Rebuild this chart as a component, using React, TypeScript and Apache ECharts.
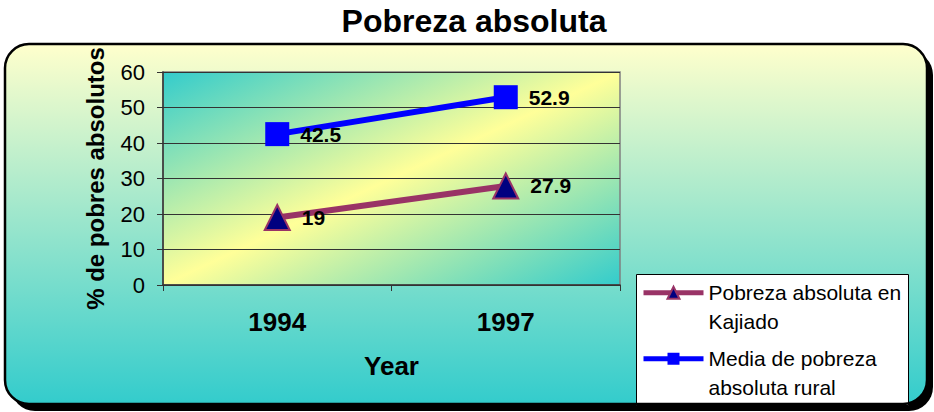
import React, { useEffect, useRef } from 'react';
import * as echarts from 'echarts';

const titleText = 'Pobreza absoluta';
const categories = ['1994', '1997'];
const kajiado = [19, 27.9];
const rural = [42.5, 52.9];
const seriesNames = ['Pobreza absoluta en Kajiado', 'Media de pobreza absoluta rural'];
const legendLabels = ['Pobreza absoluta en\nKajiado', 'Media de pobreza\nabsoluta rural'];
const yMin = 0;
const yMax = 60;
const yInterval = 10;
const yAxisName = '% de pobres absolutos';
const xAxisName = 'Year';

const FONT = '"Liberation Sans", Arial, sans-serif';

export default function App() {
  const ref = useRef<HTMLDivElement>(null);

  useEffect(() => {
    if (!ref.current) return;
    const chart = echarts.init(ref.current, undefined, { renderer: 'svg' });
    const LH = 28.5;
    const legendText = {
      fontFamily: FONT,
      fontSize: 21,
      color: '#000',
      lineHeight: LH,
    };
    // leading blank line keeps the first text line level with the icon
    const legendFormatter = (name: string) => ' \n' + legendLabels[seriesNames.indexOf(name)];
    const legendCommon = {
      left: 641,
      padding: 0,
      itemWidth: 60,
      itemHeight: 15,
      formatter: legendFormatter,
      textStyle: legendText,
      lineStyle: { width: 5 },
    };
    chart.setOption({
      animation: false,
      textStyle: { fontFamily: FONT },
      title: {
        text: titleText,
        left: 469,
        textAlign: 'center',
        top: 0,
        textStyle: { fontFamily: FONT, fontSize: 32, fontWeight: 'bold', color: '#000' },
      },
      graphic: [
        {
          type: 'rect',
          z: -12,
          shape: { x: 11, y: 51, width: 922, height: 360, r: 24 },
          style: { fill: '#000' },
        },
        {
          type: 'rect',
          z: -10,
          shape: { x: 5, y: 44, width: 922, height: 360, r: 24 },
          style: {
            fill: new echarts.graphic.LinearGradient(0, 0, 0, 1, [
              { offset: 0, color: '#FFFFCC' },
              { offset: 1, color: '#33CCCC' },
            ]),
          },
        },
        {
          type: 'rect',
          z: 1,
          shape: { x: 636.5, y: 274.5, width: 272, height: 131 },
          style: { fill: '#fff', stroke: '#000', lineWidth: 1 },
        },
        {
          type: 'rect',
          z: 50,
          shape: { x: 5, y: 44, width: 922, height: 360, r: 24 },
          style: { fill: 'none', stroke: '#000', lineWidth: 2.5 },
        },
      ],
      legend: [
        { ...legendCommon, data: [seriesNames[0]], top: 250 },
        { ...legendCommon, data: [seriesNames[1]], top: 316 },
      ],
      grid: {
        left: 163,
        right: 314,
        top: 72,
        bottom: 127,
        show: true,
        borderColor: '#808080',
        borderWidth: 1.5,
        backgroundColor: new echarts.graphic.LinearGradient(0, 0, 1, 1, [
          { offset: 0, color: '#33CCCC' },
          { offset: 0.5, color: '#FFFF99' },
          { offset: 1, color: '#33CCCC' },
        ]),
      },
      xAxis: {
        type: 'category',
        data: categories,
        boundaryGap: true,
        name: xAxisName,
        nameLocation: 'middle',
        nameGap: 68,
        nameTextStyle: { fontFamily: FONT, fontSize: 26, fontWeight: 'bold', color: '#000' },
        axisLine: { show: true, lineStyle: { color: '#333', width: 1.5 } },
        axisTick: { show: true, alignWithLabel: false, length: 6, lineStyle: { color: '#333' } },
        axisLabel: { fontFamily: FONT, fontSize: 26, fontWeight: 'bold', color: '#000', margin: 24 },
        splitLine: { show: false },
      },
      yAxis: {
        type: 'value',
        min: yMin,
        max: yMax,
        interval: yInterval,
        name: yAxisName,
        nameLocation: 'middle',
        nameGap: 56,
        nameTextStyle: { fontFamily: FONT, fontSize: 24, fontWeight: 'bold', color: '#000' },
        axisLine: { show: true, lineStyle: { color: '#333', width: 1.5 } },
        axisTick: { show: true, length: 6, lineStyle: { color: '#333' } },
        axisLabel: { fontFamily: FONT, fontSize: 22, color: '#000', margin: 18 },
        splitLine: { show: true, lineStyle: { color: '#333', width: 1 } },
      },
      series: [
        {
          name: seriesNames[0],
          type: 'line',
          data: kajiado,
          symbol: 'triangle',
          symbolSize: 25,
          lineStyle: { color: '#993366', width: 6 },
          itemStyle: { color: '#000080', borderColor: '#993366', borderWidth: 2 },
          label: {
            show: true,
            position: 'right',
            distance: 11,
            fontFamily: FONT,
            fontSize: 21,
            fontWeight: 'bold',
            color: '#000',
          },
          z: 3,
        },
        {
          name: seriesNames[1],
          type: 'line',
          data: rural,
          symbol: 'rect',
          symbolSize: 24,
          lineStyle: { color: '#0000FF', width: 6 },
          itemStyle: { color: '#0000FF' },
          label: {
            show: true,
            position: 'right',
            distance: 11,
            fontFamily: FONT,
            fontSize: 21,
            fontWeight: 'bold',
            color: '#000',
          },
          z: 3,
        },
      ],
    });
    return () => chart.dispose();
  }, []);

  return (
    <div
      ref={ref}
      style={{ position: 'fixed', left: 0, top: 0, width: 934, height: 412, background: '#fff' }}
    />
  );
}
